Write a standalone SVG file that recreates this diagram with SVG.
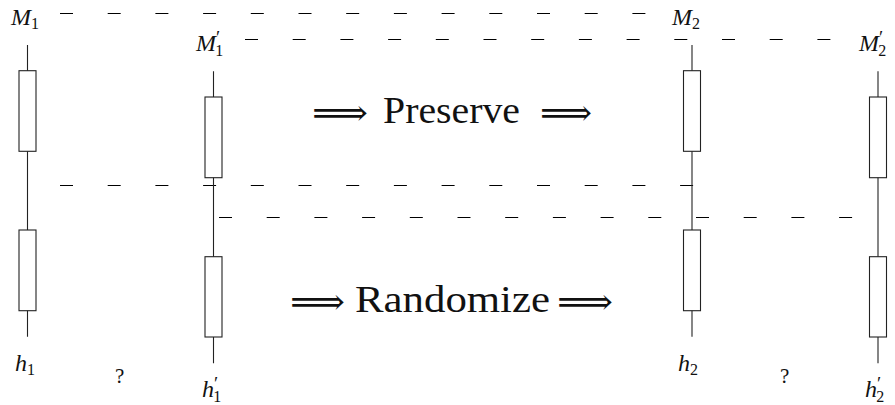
<svg xmlns="http://www.w3.org/2000/svg" width="895" height="405" viewBox="0 0 895 405">
<style>
.w{stroke:#222;stroke-width:1.1;fill:none}
.r{stroke:#222;stroke-width:1.1;fill:#fff}
.d{stroke:#000;stroke-width:1;fill:none;stroke-dasharray:13 34.7}
.v{font-style:italic;font-size:24px;fill:#111}
.s{font-style:normal;font-size:16px}
.p{font-style:normal;font-size:19px}
.t{font-size:38px;fill:#111}
.a{font-size:36px;fill:#111}
.q{font-size:21px;fill:#111}
</style>
<rect width="895" height="405" fill="#fff"/>
<g id="connectors">
<line class="d" x1="60" y1="13.5" x2="646" y2="13.5"/>
<line class="d" x1="245" y1="39.5" x2="833" y2="39.5"/>
<line class="d" x1="60" y1="185.5" x2="694" y2="185.5"/>
<line class="d" x1="219" y1="217.5" x2="854" y2="217.5"/>
</g>
<g font-family="Liberation Serif, Times New Roman, serif">
<g id="col1">
<line class="w" x1="27.5" y1="45" x2="27.5" y2="336.7"/>
<rect class="r" x="19" y="70.7" width="17" height="80.6"/>
<rect class="r" x="19" y="230" width="17" height="80.7"/>
<text class="v" x="11" y="25">M<tspan class="s" dy="4">1</tspan></text>
<text class="v" x="15" y="371">h<tspan class="s" dy="4">1</tspan></text>
</g>
<g id="col2">
<line class="w" x1="213.5" y1="71.3" x2="213.5" y2="363.3"/>
<rect class="r" x="205" y="97" width="17" height="80.7"/>
<rect class="r" x="205" y="256.7" width="17" height="80.3"/>
<text class="v" x="196" y="51">M<tspan class="p" dy="-7">′</tspan><tspan class="s" dx="-5" dy="12">1</tspan></text>
<text class="v" x="202" y="397">h<tspan class="p" dy="-7">′</tspan><tspan class="s" dx="-5" dy="12">1</tspan></text>
</g>
<g id="col3">
<line class="w" x1="692" y1="45" x2="692" y2="336.7"/>
<rect class="r" x="683.5" y="70.7" width="17" height="80.6"/>
<rect class="r" x="683.5" y="230" width="17" height="80.7"/>
<text class="v" x="672" y="25">M<tspan class="s" dy="4">2</tspan></text>
<text class="v" x="678" y="371">h<tspan class="s" dy="4">2</tspan></text>
</g>
<g id="col4">
<line class="w" x1="878" y1="71.3" x2="878" y2="363.3"/>
<rect class="r" x="869.5" y="97" width="17" height="80.7"/>
<rect class="r" x="869.5" y="256.7" width="17" height="80.3"/>
<text class="v" x="859" y="51">M<tspan class="p" dy="-7">′</tspan><tspan class="s" dx="-5" dy="12">2</tspan></text>
<text class="v" x="865" y="397">h<tspan class="p" dy="-7">′</tspan><tspan class="s" dx="-5" dy="12">2</tspan></text>
</g>
<g id="labels">
<text class="q" x="115" y="383">?</text>
<text class="q" x="780" y="383">?</text>
<text class="a" font-family="DejaVu Serif, DejaVu Sans, serif" x="312" y="125" textLength="56" lengthAdjust="spacingAndGlyphs">⟹</text>
<text class="t" x="383" y="123" textLength="137" lengthAdjust="spacingAndGlyphs">Preserve</text>
<text class="a" font-family="DejaVu Serif, DejaVu Sans, serif" x="540" y="125" textLength="52" lengthAdjust="spacingAndGlyphs">⟹</text>
<text class="a" font-family="DejaVu Serif, DejaVu Sans, serif" x="290" y="314" textLength="55" lengthAdjust="spacingAndGlyphs">⟹</text>
<text class="t" x="355" y="312" textLength="195" lengthAdjust="spacingAndGlyphs">Randomize</text>
<text class="a" font-family="DejaVu Serif, DejaVu Sans, serif" x="557" y="314" textLength="56" lengthAdjust="spacingAndGlyphs">⟹</text>
</g>
</g>
</svg>
